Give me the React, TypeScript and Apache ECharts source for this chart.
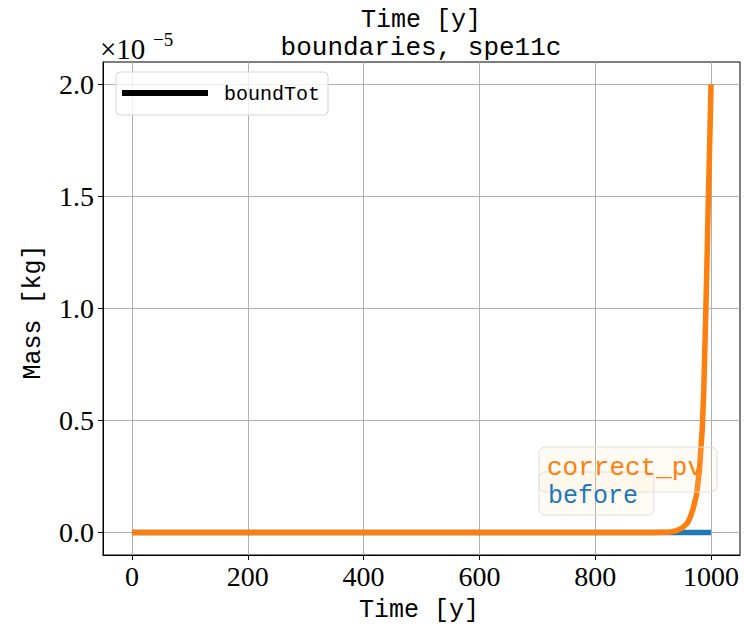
import { useEffect, useRef } from "react";
import * as echarts from "echarts";

// Time [y]
const timeYears = [0, 100, 200, 300, 400, 500, 600, 700, 800, 900, 920, 930, 940, 950, 960, 965, 970, 975, 980, 985, 987.5, 990, 992.5, 995, 997.5, 1000];
// Mass [kg], series "correct_pv"
const correctPv = [0, 0, 0, 0, 0, 0, 0, 0, 0, 0, 0.001e-5, 0.003e-5, 0.008e-5, 0.02e-5, 0.045e-5, 0.075e-5, 0.115e-5, 0.17e-5, 0.28e-5, 0.47e-5, 0.64e-5, 0.89e-5, 1.15e-5, 1.45e-5, 1.72e-5, 2.0e-5];
// Mass [kg], series "before"
const before = [0, 0, 0, 0, 0, 0, 0, 0, 0, 0, 0, 0, 0, 0, 0, 0, 0, 0, 0, 0, 0, 0, 0, 0, 0, 0];

const xTicks = [0, 200, 400, 600, 800, 1000];
const yTicks = [0, 0.5e-5, 1.0e-5, 1.5e-5, 2.0e-5];
const yScale = 1e-5;

const MONO = "'Liberation Mono', 'DejaVu Sans Mono', monospace";
const SERIF = "'Liberation Serif', 'DejaVu Serif', serif";

export default function App() {
  const ref = useRef<HTMLDivElement>(null);
  useEffect(() => {
    const chart = echarts.init(ref.current!, null, { renderer: "svg" });
    const pair = (ys: number[]) => timeYears.map((t, i) => [t, ys[i]]);
    chart.setOption({
      animation: false,
      backgroundColor: "#ffffff",
      grid: {
        left: 103,
        top: 62,
        right: 4,
        bottom: 72,
        show: true,
        borderColor: "#000",
        borderWidth: 1,
        backgroundColor: "transparent",
      },
      xAxis: {
        type: "value",
        min: -50,
        max: 1050,
        axisLine: { show: true, onZero: false, lineStyle: { color: "#000", width: 1 } },
        axisTick: { show: true, customValues: xTicks, length: 5, lineStyle: { color: "#000", width: 1 } },
        axisLabel: {
          customValues: xTicks,
          fontFamily: SERIF,
          fontSize: 28,
          color: "#000",
          margin: 7,
          formatter: (v: number) => String(Math.round(v)),
        },
        splitLine: { show: true, lineStyle: { color: "#b0b0b0", width: 1 } },
      },
      yAxis: {
        type: "value",
        min: -0.1e-5,
        max: 2.1e-5,
        axisLine: { show: true, onZero: false, lineStyle: { color: "#000", width: 1 } },
        axisTick: { show: true, customValues: yTicks, length: 5, lineStyle: { color: "#000", width: 1 } },
        axisLabel: {
          customValues: yTicks,
          fontFamily: SERIF,
          fontSize: 28,
          color: "#000",
          margin: 9,
          formatter: (v: number) => (v / yScale).toFixed(1),
        },
        splitLine: { show: true, lineStyle: { color: "#b0b0b0", width: 1 } },
      },
      series: [
        {
          name: "before",
          type: "line",
          data: pair(before),
          showSymbol: false,
          symbol: "none",
          lineStyle: { color: "#1f77b4", width: 5.5 },
          itemStyle: { color: "#1f77b4" },
          z: 3,
        },
        {
          name: "correct_pv",
          type: "line",
          data: pair(correctPv),
          showSymbol: false,
          symbol: "none",
          lineStyle: { color: "#ff7f0e", width: 5.5 },
          itemStyle: { color: "#ff7f0e" },
          z: 4,
        },
      ],
      graphic: [
        { type: "text", x: 421, y: 20, z: 100, style: { text: "Time [y]", font: `25px ${MONO}`, fill: "#000", align: "center", verticalAlign: "middle" } },
        { type: "text", x: 421, y: 48, z: 100, style: { text: "boundaries, spe11c", font: `26px ${MONO}`, fill: "#000", align: "center", verticalAlign: "middle" } },
        { type: "text", x: 419, y: 610, z: 100, style: { text: "Time [y]", font: `25px ${MONO}`, fill: "#000", align: "center", verticalAlign: "middle" } },
        { type: "text", x: 33, y: 312, rotation: Math.PI / 2, z: 100, style: { text: "Mass [kg]", font: `25px ${MONO}`, fill: "#000", align: "center", verticalAlign: "middle" } },
        { type: "text", x: 100, y: 63, z: 100, style: { text: "×10", font: `29px ${SERIF}`, fill: "#000", align: "left", verticalAlign: "bottom" } },
        { type: "text", x: 153, y: 30, z: 100, style: { text: "−5", font: `19px ${SERIF}`, fill: "#000", align: "left", verticalAlign: "top" } },
        // legend
        { type: "rect", z: 100, shape: { x: 116, y: 72, width: 212, height: 43, r: 4 }, style: { fill: "rgba(255,255,255,0.8)", stroke: "#d6d6d6", lineWidth: 1 } },
        { type: "line", z: 101, shape: { x1: 122, y1: 93, x2: 208, y2: 93 }, style: { stroke: "#000", lineWidth: 6 } },
        { type: "text", x: 224, y: 94, z: 101, style: { text: "boundTot", font: `20px ${MONO}`, fill: "#000", align: "left", verticalAlign: "middle" } },
        // annotations
        { type: "rect", z: 100, shape: { x: 539, y: 447, width: 178, height: 45, r: 6 }, style: { fill: "rgba(245,222,179,0.13)", stroke: "#e3dfd8", lineWidth: 1 } },
        { type: "text", x: 547, y: 468, z: 101, style: { text: "correct_pv", font: `26px ${MONO}`, fill: "#ff7f0e", align: "left", verticalAlign: "middle" } },
        { type: "rect", z: 100, shape: { x: 539, y: 472, width: 115, height: 43, r: 6 }, style: { fill: "rgba(245,222,179,0.13)", stroke: "#e3dfd8", lineWidth: 1 } },
        { type: "text", x: 548, y: 496, z: 101, style: { text: "before", font: `25px ${MONO}`, fill: "#1f77b4", align: "left", verticalAlign: "middle" } },
      ],
    });
    return () => chart.dispose();
  }, []);
  return <div ref={ref} style={{ position: "absolute", left: 0, top: 0, width: 744, height: 627 }} />;
}
